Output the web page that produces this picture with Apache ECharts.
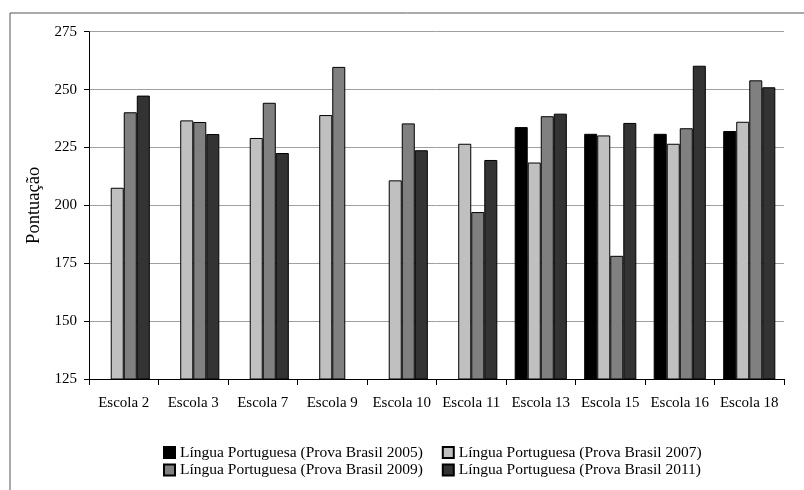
<!DOCTYPE html>
<html>
<head>
<meta charset="utf-8">
<script src="https://cdn.jsdelivr.net/npm/echarts@6/dist/echarts.min.js"></script>
<style>html,body{margin:0;padding:0;background:#fff;}#c{width:804px;height:490px;}</style>
</head>
<body>
<div id="c"></div>
<script>
const categories = ['Escola 2','Escola 3','Escola 7','Escola 9','Escola 10','Escola 11','Escola 13','Escola 15','Escola 16','Escola 18'];
const seriesNames = ['Língua Portuguesa (Prova Brasil 2005)','Língua Portuguesa (Prova Brasil 2007)','Língua Portuguesa (Prova Brasil 2009)','Língua Portuguesa (Prova Brasil 2011)'];
const lp2005 = [null, null, null, null, null, null, 233.8, 230.9, 230.9, 232.1];
const lp2007 = [207.6, 236.7, 229.1, 239.0, 210.8, 226.6, 218.5, 230.2, 226.6, 236.1];
const lp2009 = [240.2, 236.0, 244.3, 259.8, 235.4, 197.1, 238.5, 178.2, 233.3, 254.0];
const lp2011 = [247.4, 230.8, 222.6, null, 223.8, 219.6, 239.6, 235.6, 260.3, 251.0];
const yTicks = [125, 150, 175, 200, 225, 250, 275];
const colors = ['#000000', '#c0c0c0', '#808080', '#333333'];

const font = 'Liberation Serif, Times New Roman, serif';
const allData = [lp2005, lp2007, lp2009, lp2011];
const chart = echarts.init(document.getElementById('c'), null, {renderer: 'canvas'});
const legendCommon = {
  orient: 'horizontal', left: 163, padding: 0, itemWidth: 11, itemHeight: 11, itemGap: 19,
  icon: 'rect', textStyle: {fontFamily: font, fontSize: 15.5, color: '#000'}, selectedMode: false
};
chart.setOption({
  animation: false,
  backgroundColor: '#fff',
  textStyle: {fontFamily: font},
  graphic: [{
    type: 'rect', left: 7.5, top: 10.5, shape: {width: 1000, height: 1000},
    style: {fill: 'none', stroke: '#555', lineWidth: 1}, silent: true, z: -1
  }],
  grid: {left: 89, right: 20, top: 31.7, bottom: 111},
  legend: [
    Object.assign({top: 444.5, data: [seriesNames[0], seriesNames[1]]}, legendCommon),
    Object.assign({top: 462, data: [seriesNames[2], seriesNames[3]]}, legendCommon)
  ],
  xAxis: {
    type: 'category', data: categories,
    axisLine: {lineStyle: {color: '#000', width: 1}},
    axisTick: {show: true, length: 6, inside: false, lineStyle: {color: '#000'}},
    axisLabel: {fontFamily: font, fontSize: 15, color: '#000', margin: 17, interval: 0},
    splitLine: {show: false}
  },
  yAxis: {
    type: 'value', min: yTicks[0], max: yTicks[yTicks.length - 1], interval: 25,
    name: 'Pontuação', nameLocation: 'middle', nameGap: 44, nameRotate: 90,
    nameTextStyle: {fontFamily: font, fontSize: 18.5, color: '#000'},
    axisLine: {show: true, lineStyle: {color: '#000', width: 1}},
    axisTick: {show: true, length: 5, lineStyle: {color: '#000'}},
    axisLabel: {fontFamily: font, fontSize: 15, color: '#000', margin: 12},
    splitLine: {show: true, lineStyle: {color: '#a0a0a0', width: 1}}
  },
  series: seriesNames.map((n, i) => ({
    name: n, type: 'bar', data: allData[i],
    barGap: '0%', barCategoryGap: '25%',
    itemStyle: {color: colors[i], borderColor: '#000', borderWidth: 1}
  }))
});
</script>
</body>
</html>
